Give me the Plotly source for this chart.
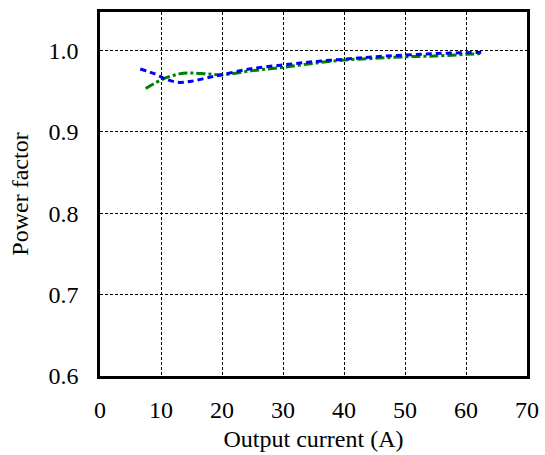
import plotly.graph_objects as go

# Data
green_x = [7.5, 10.3, 13, 15, 17.5, 20, 25, 30, 35, 40, 45, 50, 55, 60, 62.5]
green_y = [0.953, 0.9646, 0.971, 0.972, 0.971, 0.970, 0.975, 0.979, 0.984, 0.988, 0.990, 0.992, 0.993, 0.995, 0.996]

blue_x = [6.6, 9, 11, 13, 15, 17.5, 20, 24.5, 30, 35, 40, 45, 50, 55, 60, 62.5]
blue_y = [0.977, 0.971, 0.964, 0.9605, 0.962, 0.966, 0.970, 0.977, 0.982, 0.986, 0.989, 0.992, 0.994, 0.996, 0.997, 0.9975]

x_ticks = [0, 10, 20, 30, 40, 50, 60, 70]
y_ticks = [0.6, 0.7, 0.8, 0.9, 1.0]

fig = go.Figure()
fig.add_trace(go.Scatter(x=green_x, y=green_y, mode="lines", line=dict(color="#008000", width=3, dash="dashdot", shape="spline"), showlegend=False))
fig.add_trace(go.Scatter(x=blue_x, y=blue_y, mode="lines", line=dict(color="#0000ff", width=3, dash="6px,4px", shape="spline"), showlegend=False))

serif = "Times New Roman, Liberation Serif, serif"
font = dict(family=serif, size=24, color="black")
common = dict(showgrid=True, gridcolor="black", gridwidth=1, griddash="3px,2px",
              showline=True, linecolor="black", linewidth=2.5, mirror=True,
              ticks="outside", tickcolor="rgba(0,0,0,0)", zeroline=False,
              automargin=False,
              tickfont=dict(family=serif, size=24, color="black"))
fig.update_layout(
    width=545, height=455,
    margin=dict(l=100, r=18, t=12, b=79),
    paper_bgcolor="white", plot_bgcolor="white",
    font=font,
    modebar=dict(bgcolor="rgba(0,0,0,0)", color="rgba(0,0,0,0)", activecolor="rgba(0,0,0,0)"),
    xaxis=dict(range=[0, 70], tickvals=x_ticks, ticktext=[str(v) for v in x_ticks],
               ticklen=10,
               title=dict(text="Output current (A)", font=font, standoff=9), **common),
    yaxis=dict(range=[0.6, 1.047], tickvals=y_ticks, ticktext=["0.6", "0.7", "0.8", "0.9", "1.0"],
               ticklen=14,
               title=dict(text="Power factor", font=font, standoff=14), **common),
)
fig.write_html("out.html",
               post_script="document.body.style.margin='0';document.body.style.overflow='hidden';"
                           "document.querySelectorAll('.modebar-container').forEach(function(e){e.style.display='none';});")
